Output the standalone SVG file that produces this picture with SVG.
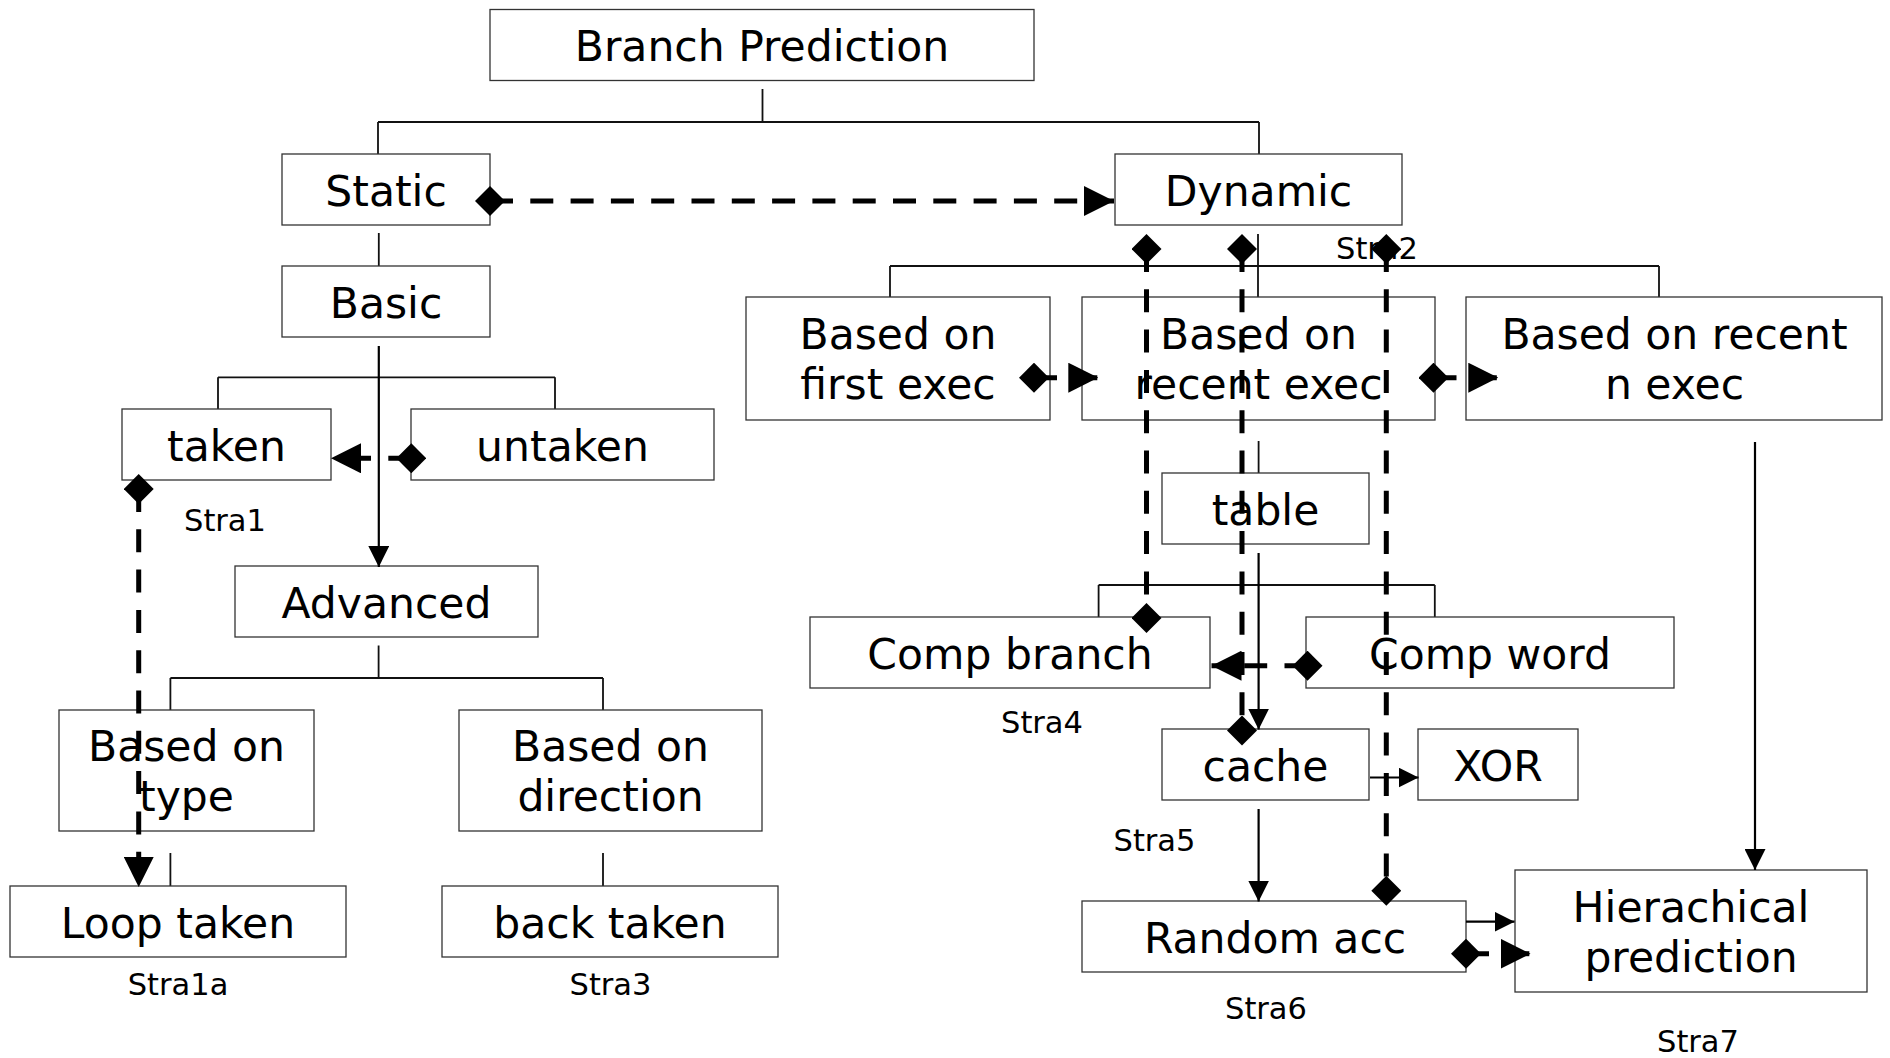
<svg xmlns="http://www.w3.org/2000/svg" width="1890" height="1058" viewBox="0 0 1890 1058">
<style>
.box{fill:#fff;stroke:#333;stroke-width:1.3}
.t{font-family:"DejaVu Sans","Liberation Sans",sans-serif;font-size:42.5px;fill:#000;text-anchor:middle}
.s{font-family:"DejaVu Sans","Liberation Sans",sans-serif;font-size:30.5px;fill:#000;text-anchor:middle}
.tree{fill:none;stroke:#111;stroke-width:1.8}
.arr{fill:none;stroke:#000;stroke-width:2.2}
.dash{fill:none;stroke:#000;stroke-width:5;stroke-dasharray:23 17.3}
</style>
<defs>
<marker id="tri" markerUnits="userSpaceOnUse" markerWidth="30" markerHeight="30" refX="30" refY="15" orient="auto" viewBox="0 0 30 30">
<path d="M0,0 L30,15 L0,30 Z" fill="#000" stroke="none"/>
</marker>
<marker id="dia" markerUnits="userSpaceOnUse" markerWidth="30" markerHeight="30" refX="15" refY="15" orient="auto" viewBox="0 0 30 30">
<path d="M0,15 L15,0 L30,15 L15,30 Z" fill="#000" stroke="none"/>
</marker>
<marker id="ah" markerUnits="userSpaceOnUse" markerWidth="21" markerHeight="21" refX="21" refY="10.5" orient="auto" viewBox="0 0 21 21">
<path d="M0,0 L21,10.5 L0,21 Z" fill="#000" stroke="none"/>
</marker>
<marker id="ahs" markerUnits="userSpaceOnUse" markerWidth="20" markerHeight="20" refX="20" refY="10" orient="auto" viewBox="0 0 20 20">
<path d="M0,0 L20,10 L0,20 Z" fill="#000" stroke="none"/>
</marker>
</defs>
<rect width="1890" height="1058" fill="#fff"/>

<g id="tree-lines">
<path class="tree" d="M762.5,89 V122 M378,122 H1259 M378,122 V154 M1259,122 V154"/>
<path class="tree" d="M378.8,233 V266"/>
<path class="tree" d="M218,377.3 H555 M218,377.3 V409 M555,377.3 V409"/>
<path class="tree" d="M378.6,645.5 V678 M170.4,678 H603 M170.4,678 V710 M603,678 V710"/>
<path class="tree" d="M170.4,853 V886 M603,853 V886"/>
<path class="tree" d="M1258,234 V297 M890,266 H1659 M890,266 V297 M1659,266 V297"/>
<path class="tree" d="M1258.6,441 V473"/>
<path class="tree" d="M1098.6,585 H1434.8 M1098.6,585 V617 M1434.8,585 V617"/>
</g>

<g id="nodes">
<g id="n-branch-prediction"><rect class="box" x="490" y="9.5" width="544" height="71"/><text class="t" x="762" y="61">Branch Prediction</text></g>
<g id="n-static"><rect class="box" x="282" y="154" width="208" height="71"/><text class="t" x="386" y="205.5">Static</text></g>
<g id="n-dynamic"><rect class="box" x="1115" y="154" width="287" height="71"/><text class="t" x="1258.5" y="205.5">Dynamic</text></g>
<g id="n-basic"><rect class="box" x="282" y="266" width="208" height="71"/><text class="t" x="386" y="317.5">Basic</text></g>
<g id="n-taken"><rect class="box" x="122" y="409" width="209" height="71"/><text class="t" x="226.5" y="461">taken</text></g>
<g id="n-untaken"><rect class="box" x="411" y="409" width="303" height="71"/><text class="t" x="562.5" y="461">untaken</text></g>
<g id="n-advanced"><rect class="box" x="235" y="566" width="303" height="71"/><text class="t" x="386.5" y="617.5">Advanced</text></g>
<g id="n-based-type"><rect class="box" x="59" y="710" width="255" height="121"/><text class="t" x="186.5" y="761">Based on</text><text class="t" x="186.5" y="811">type</text></g>
<g id="n-based-direction"><rect class="box" x="459" y="710" width="303" height="121"/><text class="t" x="610.5" y="761">Based on</text><text class="t" x="610.5" y="811">direction</text></g>
<g id="n-loop-taken"><rect class="box" x="10" y="886" width="336" height="71"/><text class="t" x="178" y="937.5">Loop taken</text></g>
<g id="n-back-taken"><rect class="box" x="442" y="886" width="336" height="71"/><text class="t" x="610" y="937.5">back taken</text></g>
<g id="n-first-exec"><rect class="box" x="746" y="297" width="304" height="123"/><text class="t" x="898" y="349">Based on</text><text class="t" x="898" y="399">first exec</text></g>
<g id="n-recent-exec"><rect class="box" x="1082" y="297" width="353" height="123"/><text class="t" x="1258.5" y="349">Based on</text><text class="t" x="1258.5" y="399">recent exec</text></g>
<g id="n-recent-n-exec"><rect class="box" x="1466" y="297" width="416" height="123"/><text class="t" x="1674.5" y="349">Based on recent</text><text class="t" x="1674.5" y="399">n exec</text></g>
<g id="n-table"><rect class="box" x="1162" y="473" width="207" height="71"/><text class="t" x="1265.5" y="524.5">table</text></g>
<g id="n-comp-branch"><rect class="box" x="810" y="617" width="400" height="71"/><text class="t" x="1010" y="668.5">Comp branch</text></g>
<g id="n-comp-word"><rect class="box" x="1306" y="617" width="368" height="71"/><text class="t" x="1490" y="668.5">Comp word</text></g>
<g id="n-cache"><rect class="box" x="1162" y="729" width="207" height="71"/><text class="t" x="1265.5" y="780.5">cache</text></g>
<g id="n-xor"><rect class="box" x="1418" y="729" width="160" height="71"/><text class="t" x="1498" y="780.5">XOR</text></g>
<g id="n-random-acc"><rect class="box" x="1082" y="901" width="384" height="71"/><text class="t" x="1275" y="953">Random acc</text></g>
<g id="n-hierachical"><rect class="box" x="1515" y="870" width="352" height="122"/><text class="t" x="1691" y="921.5">Hierachical</text><text class="t" x="1691" y="971.5">prediction</text></g>
</g>

<g id="labels">
<text class="s" x="225" y="531">Stra1</text>
<text class="s" x="1377" y="259">Stra2</text>
<text class="s" x="178" y="995">Stra1a</text>
<text class="s" x="610.5" y="995">Stra3</text>
<text class="s" x="1042" y="733">Stra4</text>
<text class="s" x="1154.5" y="851">Stra5</text>
<text class="s" x="1266" y="1019">Stra6</text>
<text class="s" x="1698" y="1052">Stra7</text>
</g>

<g id="connectors">
<path class="arr" d="M378.8,346 V567" marker-end="url(#ah)"/>
<path class="arr" d="M1258.6,553 V729.5" marker-end="url(#ah)"/>
<path class="arr" d="M1258.6,809 V901.5" marker-end="url(#ah)"/>
<path class="arr" d="M1755,442 V870" marker-end="url(#ah)"/>
<path class="arr" d="M1370,777.5 H1418.5" marker-end="url(#ahs)"/>
<path class="arr" d="M1466,921.7 H1514.5" marker-end="url(#ahs)"/>

<path class="dash" d="M490,201 H1114" marker-start="url(#dia)" marker-end="url(#tri)"/>
<path class="dash" d="M411.3,458.3 H331" marker-start="url(#dia)" marker-end="url(#tri)"/>
<path class="dash" d="M138.7,489 V887" marker-start="url(#dia)" marker-end="url(#tri)"/>
<path class="dash" d="M1034,377.7 H1098.3" marker-start="url(#dia)" marker-end="url(#tri)"/>
<path class="dash" d="M1433.5,377.7 H1498.3" marker-start="url(#dia)" marker-end="url(#tri)"/>
<path class="dash" d="M1307.5,665.7 H1211.5" marker-start="url(#dia)" marker-end="url(#tri)"/>
<path class="dash" d="M1466,953.7 H1530.5" marker-start="url(#dia)" marker-end="url(#tri)"/>
<path class="dash" d="M1146.5,249 V618" marker-start="url(#dia)" marker-end="url(#dia)"/>
<path class="dash" d="M1242,249 V730.5" marker-start="url(#dia)" marker-end="url(#dia)"/>
<path class="dash" d="M1386.3,249 V890.8" marker-start="url(#dia)" marker-end="url(#dia)"/>
</g>
</svg>
